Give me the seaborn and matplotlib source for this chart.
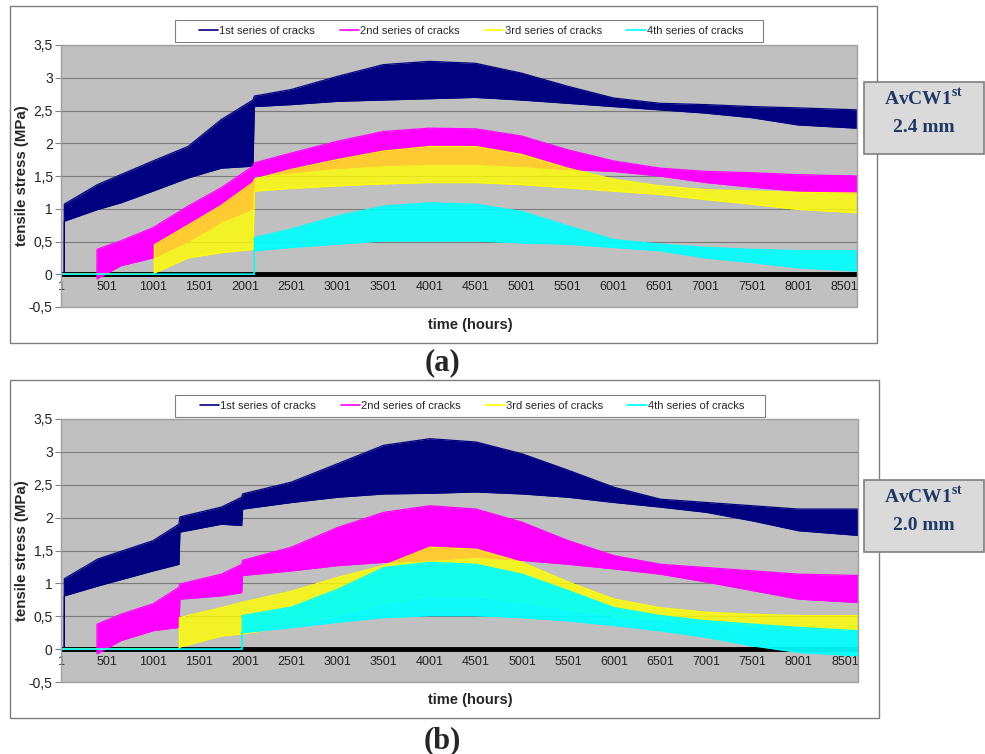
import numpy as np
import pandas as pd
import seaborn as sns
import matplotlib.pyplot as plt
from matplotlib.patches import Rectangle
from matplotlib.lines import Line2D

sns.set_style("white")
plt.rcParams['font.family'] = ['Liberation Sans', 'DejaVu Sans']
plt.rcParams['mathtext.fontset'] = 'custom'
plt.rcParams['mathtext.rm'] = 'Liberation Serif'
plt.rcParams['mathtext.bf'] = 'Liberation Serif:bold'

series_names = ['1st series of cracks', '2nd series of cracks',
                '3rd series of cracks', '4th series of cracks']
series_colors = ['#000080', '#ff00ff', '#ffff00', '#00ffff']
x_ticks = [1, 501, 1001, 1501, 2001, 2501, 3001, 3501, 4001,
           4501, 5001, 5501, 6001, 6501, 7001, 7501, 8001, 8501]
y_ticks = [-0.5, 0, 0.5, 1, 1.5, 2, 2.5, 3, 3.5]

# (a) AvCW1st 2.4 mm -- daily oscillation given as upper / lower envelope
a1_hours = [1, 36, 37, 400, 650, 1000, 1380, 1740, 2085, 2100, 2500, 3000, 3500,
            4000, 4500, 5000, 5500, 6000, 6500, 7000, 7500, 8000, 8640]
a1_upper = [0, 0, 1.07, 1.37, 1.52, 1.73, 1.95, 2.36, 2.66, 2.72, 2.82, 3.02, 3.20,
            3.25, 3.22, 3.07, 2.87, 2.69, 2.61, 2.59, 2.56, 2.54, 2.51]
a1_lower = [0, 0, 0.81, 0.99, 1.09, 1.27, 1.47, 1.62, 1.65, 2.56, 2.59, 2.64, 2.66,
            2.68, 2.70, 2.66, 2.61, 2.56, 2.51, 2.46, 2.39, 2.28, 2.23]

a2_hours = [1, 391, 392, 650, 1000, 1380, 1740, 2085, 2100, 2500, 3000, 3500,
            4000, 4500, 5000, 5500, 6000, 6500, 7000, 7500, 8000, 8640]
a2_upper = [0, 0, 0.38, 0.51, 0.71, 1.04, 1.32, 1.65, 1.70, 1.85, 2.03, 2.18,
            2.23, 2.22, 2.11, 1.90, 1.73, 1.62, 1.57, 1.55, 1.52, 1.50]
a2_lower = [0, 0, -0.07, 0.13, 0.25, 0.50, 0.80, 1.00, 1.50, 1.55, 1.62, 1.66,
            1.68, 1.68, 1.65, 1.60, 1.57, 1.50, 1.40, 1.33, 1.27, 1.24]

a3_hours = [1, 1014, 1015, 1380, 1740, 2085, 2100, 2500, 3000, 3500, 4000,
            4500, 5000, 5500, 6000, 6500, 7000, 7500, 8000, 8640]
a3_upper = [0, 0, 0.45, 0.75, 1.05, 1.40, 1.45, 1.60, 1.75, 1.88, 1.95,
            1.95, 1.83, 1.62, 1.45, 1.35, 1.29, 1.27, 1.25, 1.24]
a3_lower = [0, 0, 0.02, 0.25, 0.33, 0.38, 1.27, 1.31, 1.35, 1.38, 1.40,
            1.40, 1.37, 1.32, 1.27, 1.22, 1.14, 1.07, 0.99, 0.94]

a4_hours = [1, 2099, 2100, 2500, 3000, 3500, 4000, 4500, 5000, 5500, 6000,
            6500, 7000, 7500, 8000, 8640]
a4_upper = [0, 0, 0.56, 0.69, 0.89, 1.04, 1.09, 1.07, 0.96, 0.74, 0.53,
            0.46, 0.41, 0.38, 0.36, 0.36]
a4_lower = [0, 0, 0.36, 0.41, 0.46, 0.51, 0.51, 0.51, 0.48, 0.46, 0.41,
            0.36, 0.25, 0.18, 0.10, 0.05]

# (b) AvCW1st 2.0 mm
b1_hours = [1, 36, 37, 400, 1000, 1280, 1290, 1740, 1960, 1970, 2500, 3000, 3500,
            4000, 4500, 5000, 5500, 6000, 6500, 7000, 7500, 8000, 8640]
b1_upper = [0, 0, 1.07, 1.37, 1.65, 1.90, 2.01, 2.16, 2.31, 2.36, 2.54, 2.82, 3.10,
            3.20, 3.15, 2.97, 2.72, 2.46, 2.28, 2.23, 2.18, 2.13, 2.13]
b1_lower = [0, 0, 0.81, 0.96, 1.19, 1.29, 1.78, 1.90, 1.88, 2.13, 2.23, 2.31, 2.36,
            2.37, 2.39, 2.36, 2.31, 2.23, 2.16, 2.08, 1.95, 1.80, 1.73]

b2_hours = [1, 391, 392, 650, 1000, 1280, 1290, 1740, 1960, 1970, 2500, 3000, 3500,
            4000, 4500, 5000, 5500, 6000, 6500, 7000, 7500, 8000, 8640]
b2_upper = [0, 0, 0.38, 0.53, 0.69, 0.94, 0.99, 1.14, 1.29, 1.35, 1.55, 1.85, 2.08,
            2.18, 2.13, 1.93, 1.65, 1.42, 1.29, 1.24, 1.19, 1.14, 1.12]
b2_lower = [0, 0, -0.07, 0.13, 0.28, 0.33, 0.76, 0.81, 0.86, 1.12, 1.19, 1.27, 1.32,
            1.35, 1.40, 1.35, 1.29, 1.22, 1.14, 1.02, 0.89, 0.76, 0.71]

b3_hours = [1, 1284, 1285, 1740, 1960, 2500, 3000, 3500, 4000, 4500, 5000,
            5500, 6000, 6500, 7000, 7500, 8000, 8640]
b3_upper = [0, 0, 0.48, 0.63, 0.71, 0.88, 1.09, 1.27, 1.55, 1.52, 1.32,
            1.02, 0.76, 0.63, 0.56, 0.53, 0.51, 0.51]
b3_lower = [0, 0, 0.03, 0.20, 0.23, 0.35, 0.50, 0.70, 0.80, 0.80, 0.72,
            0.60, 0.50, 0.45, 0.40, 0.35, 0.30, 0.28]

b4_hours = [1, 1964, 1965, 2500, 3000, 3500, 4000, 4500, 5000, 5500, 6000,
            6500, 7000, 7500, 8000, 8640]
b4_upper = [0, 0, 0.51, 0.64, 0.91, 1.24, 1.32, 1.29, 1.14, 0.89, 0.63,
            0.51, 0.43, 0.38, 0.33, 0.28]
b4_lower = [0, 0, 0.25, 0.33, 0.41, 0.48, 0.51, 0.51, 0.48, 0.43, 0.36,
            0.28, 0.18, 0.05, -0.05, -0.10]

panel_a = [(a1_hours, a1_upper, a1_lower), (a2_hours, a2_upper, a2_lower),
           (a3_hours, a3_upper, a3_lower), (a4_hours, a4_upper, a4_lower)]
panel_b = [(b1_hours, b1_upper, b1_lower), (b2_hours, b2_upper, b2_lower),
           (b3_hours, b3_upper, b3_lower), (b4_hours, b4_upper, b4_lower)]

W, H = 985, 754
fig = plt.figure(figsize=(W / 100, H / 100), dpi=100)


def fx(px):
    return px / W


def fy(py):
    return 1 - py / H


def fig_rect(x0, y0, x1, y1, **kw):
    fig.add_artist(Rectangle((fx(x0), fy(y1)), fx(x1) - fx(x0), fy(y0) - fy(y1),
                             transform=fig.transFigure, **kw))


def draw_panel(data, box, plot, legend_box, note_box, note_size, tag, tag_y):
    fig_rect(*box, fc='white', ec='#7f7f7f', lw=1, zorder=-10)
    x0, y0, x1, y1 = plot
    ax = fig.add_axes([fx(x0), fy(y1), fx(x1) - fx(x0), fy(y0) - fy(y1)])
    ax.set_facecolor('#c0c0c0')

    alphas = [1, 1, 0.8, 0.92]
    for i, (hours, upper, lower) in enumerate(data):
        z = 1 + i * 0.2
        c = series_colors[i]
        ax.fill_between(hours, lower, upper, color=c, alpha=alphas[i], lw=0, zorder=z)
        df = pd.DataFrame({'hour': hours + hours, 'stress': upper + lower,
                           'edge': ['upper'] * len(hours) + ['lower'] * len(hours)})
        sns.lineplot(data=df, x='hour', y='stress', units='edge', estimator=None,
                     sort=False, color=c, lw=0.9, ax=ax, zorder=z + 0.1, legend=False)

    ax.set_xlim(1, 8642)
    ax.set_ylim(-0.5, 3.5)
    ax.set_xticks(x_ticks)
    ax.set_xticklabels([str(t) for t in x_ticks])
    ax.set_yticks(y_ticks)
    ax.set_yticklabels([f'{t:g}'.replace('.', ',') for t in y_ticks])
    ax.grid(axis='y', color='#7a7a7a', lw=0.8)
    ax.grid(axis='x', visible=False)
    ax.set_axisbelow(True)
    for s in ['left', 'right', 'top']:
        ax.spines[s].set_visible(False)
    ax.spines['bottom'].set_position(('data', 0))
    ax.spines['bottom'].set_color('black')
    ax.spines['bottom'].set_linewidth(3.5)
    ax.spines['bottom'].set_capstyle('butt')
    ax.spines['bottom'].set_zorder(0.8)
    ax.add_patch(Rectangle((0, 0), 1, 1, transform=ax.transAxes, fill=False,
                           ec='#a0a0a0', lw=1, zorder=5, clip_on=False))
    ax.tick_params(axis='x', length=0, pad=5, labelsize=9, labelcolor='#222222')
    ax.tick_params(axis='y', left=True, length=4, color='#808080', pad=2,
                   labelsize=10, labelcolor='#222222')
    ax.set_xlabel('')
    ax.set_ylabel('')

    lx0, ly0, lx1, ly1 = legend_box
    fig_rect(lx0, ly0, lx1, ly1, fc='white', ec='#808080', lw=0.8, zorder=2)
    handles = [Line2D([], [], color=c, lw=1.2) for c in series_colors]
    leg = fig.legend(handles, series_names, ncol=4, loc='center',
                     bbox_to_anchor=(fx((lx0 + lx1) / 2 + 2), fy((ly0 + ly1) / 2)),
                     bbox_transform=fig.transFigure, fontsize=8, frameon=False,
                     handlelength=1.75, handletextpad=0.1, columnspacing=2.2,
                     borderpad=0.2)
    leg.set_zorder(3)

    fig.text(fx(470), fy(y1 + 18), 'time (hours)', ha='center', va='center',
             fontsize=10.5, fontweight='bold')
    fig.text(fx(22), fy((y0 + y1) / 2), 'tensile stress (MPa)', ha='center',
             va='center', rotation=90, fontsize=10.8, fontweight='bold')

    nx0, ny0, nx1, ny1 = note_box
    fig_rect(nx0, ny0, nx1, ny1, fc='#dadada', ec='#7f7f7f', lw=1.2, zorder=2)
    ncx = (nx0 + nx1) / 2
    fig.text(fx(ncx), fy(ny0 + 16), r'AvCW1$^{\mathbf{st}}$', ha='center', va='center',
             family='Liberation Serif', fontweight='bold', fontsize=14, color='#1f3864',
             zorder=3)
    fig.text(fx(ncx), fy(ny0 + 45), note_size, ha='center', va='center',
             family='Liberation Serif', fontweight='bold', fontsize=14, color='#1f3864',
             zorder=3)

    fig.text(fx(442), fy(tag_y), tag, ha='center', va='center',
             family='Liberation Serif', fontweight='bold', fontsize=22)


draw_panel(panel_a, (10, 6, 877, 343), (61, 45, 857, 307), (175, 20, 763, 42),
           (864, 82, 984, 154), '2.4 mm', '(a)', 363)
draw_panel(panel_b, (10, 380, 879, 718), (61, 419, 858, 682), (175, 395, 765, 417),
           (864, 480, 984, 552), '2.0 mm', '(b)', 741)

fig.savefig('out.png', dpi=100, facecolor='white')
